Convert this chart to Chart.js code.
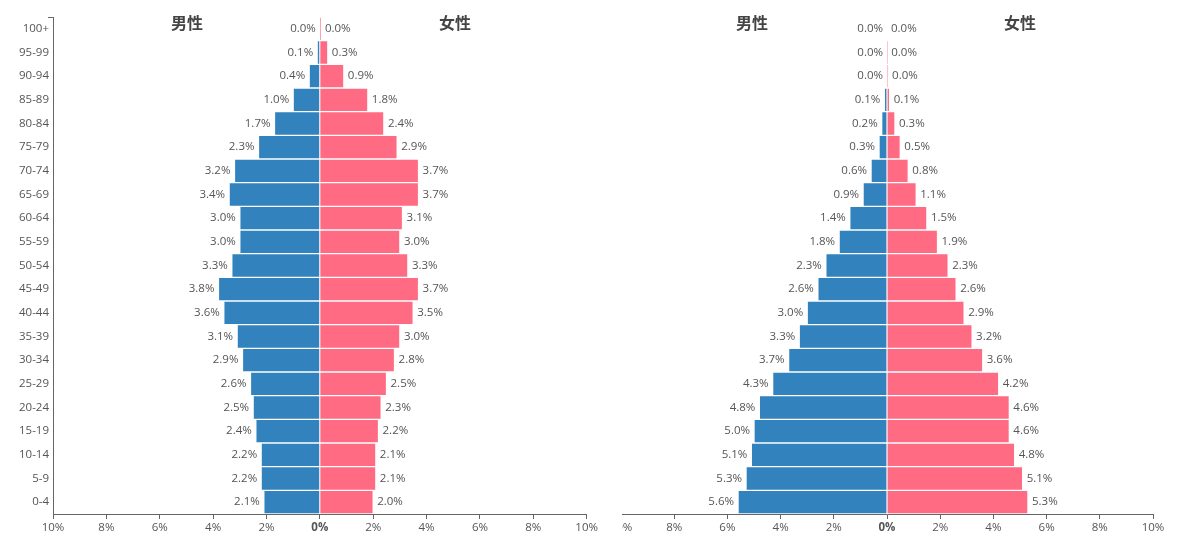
<!DOCTYPE html>
<html><head><meta charset="utf-8">
<script src="https://cdn.jsdelivr.net/npm/chart.js@4"></script>
<style>
html,body{margin:0;padding:0;background:#fff;width:1200px;height:549px;overflow:hidden;}
.wrap{position:absolute;top:0;height:549px;}
#leftWrap{left:0;width:600px;}
#rightClip{left:622px;width:578px;overflow:hidden;}
#rightInner{position:absolute;left:-54px;top:0;width:632px;height:549px;}
.ttl{position:absolute;top:12px;font-family:"Noto Sans CJK SC","Noto Sans",sans-serif;font-size:16px;font-weight:bold;color:#444;transform:translateX(-50%);line-height:20px;white-space:nowrap;}
</style></head>
<body>
<div id="leftWrap" class="wrap"><canvas id="c1" width="600" height="549" style="width:600px;height:549px"></canvas></div>
<div id="rightClip" class="wrap"><div id="rightInner"><canvas id="c2" width="632" height="549" style="width:632px;height:549px"></canvas></div></div>
<div class="ttl" style="left:187px">男性</div>
<div class="ttl" style="left:455px">女性</div>
<div class="ttl" style="left:752px">男性</div>
<div class="ttl" style="left:1020px">女性</div>
<script>
const ageGroups = ['100+','95-99','90-94','85-89','80-84','75-79','70-74','65-69','60-64','55-59','50-54','45-49','40-44','35-39','30-34','25-29','20-24','15-19','10-14','5-9','0-4'];
const maleA   = [0.0, 0.1, 0.4, 1.0, 1.7, 2.3, 3.2, 3.4, 3.0, 3.0, 3.3, 3.8, 3.6, 3.1, 2.9, 2.6, 2.5, 2.4, 2.2, 2.2, 2.1];
const femaleA = [0.04, 0.3, 0.9, 1.8, 2.4, 2.9, 3.7, 3.7, 3.1, 3.0, 3.3, 3.7, 3.5, 3.0, 2.8, 2.5, 2.3, 2.2, 2.1, 2.1, 2.0];
const maleB   = [0.0, 0.0, 0.0, 0.1, 0.2, 0.3, 0.6, 0.9, 1.4, 1.8, 2.3, 2.6, 3.0, 3.3, 3.7, 4.3, 4.8, 5.0, 5.1, 5.3, 5.6];
const femaleB = [0.0, 0.01, 0.04, 0.1, 0.3, 0.5, 0.8, 1.1, 1.5, 1.9, 2.3, 2.6, 2.9, 3.2, 3.6, 4.2, 4.6, 4.6, 4.8, 5.1, 5.3];
const xMin = -10, xMax = 10, xStep = 2;

const FONT = '"Open Sans","Noto Sans",sans-serif';
const FSIZE = 11.5;
const BLUE = '#3182bd';
const PINK = '#ff6b83';

const labelPlugin = {
  id: 'barLabels',
  afterDatasetsDraw(chart) {
    const ctx = chart.ctx;
    ctx.save();
    ctx.font = FSIZE + 'px ' + FONT;
    ctx.fillStyle = '#555';
    ctx.textBaseline = 'middle';
    chart.data.datasets.forEach((ds, i) => {
      const meta = chart.getDatasetMeta(i);
      meta.data.forEach((el, j) => {
        const v = ds.data[j];
        const txt = Math.abs(v).toFixed(1) + '%';
        if (i === 0) { ctx.textAlign = 'right'; ctx.fillText(txt, el.x - 4, el.y); }
        else { ctx.textAlign = 'left'; ctx.fillText(txt, el.x + 4, el.y); }
      });
    });
    ctx.restore();
  }
};

const outerTick = {
  id: 'outerTick',
  afterDraw(chart, args, opts) {
    if (!opts.show) return;
    const ctx = chart.ctx, a = chart.chartArea;
    ctx.save();
    ctx.strokeStyle = '#666';
    ctx.lineWidth = 1;
    ctx.beginPath();
    ctx.moveTo(a.left - 5, a.top + 0.5);
    ctx.lineTo(a.left, a.top + 0.5);
    ctx.stroke();
    ctx.restore();
  }
};

function makeChart(id, male, female, showY, padLeft, padRight) {
  return new Chart(document.getElementById(id), {
    type: 'bar',
    data: {
      labels: ageGroups,
      datasets: [
        { label: '男性', data: male.map(v => -v), backgroundColor: BLUE, borderColor: 'rgba(255,255,255,0.55)', borderWidth: 1, categoryPercentage: 1, barPercentage: 1 },
        { label: '女性', data: female.slice(), backgroundColor: PINK, borderColor: 'rgba(255,255,255,0.55)', borderWidth: 1, categoryPercentage: 1, barPercentage: 1 }
      ]
    },
    options: {
      indexAxis: 'y',
      responsive: false,
      animation: false,
      devicePixelRatio: 1,
      layout: { padding: { top: 17, left: padLeft, right: padRight, bottom: 0 } },
      plugins: { legend: { display: false }, tooltip: { enabled: false }, outerTick: { show: showY } },
      scales: {
        x: {
          type: 'linear', min: xMin, max: xMax, stacked: true,
          ticks: {
            stepSize: xStep, autoSkip: false, maxRotation: 0, padding: 2, color: '#555',
            callback: v => Math.abs(v) + '%',
            font: c => ({ family: FONT, size: FSIZE, weight: (c.tick && c.tick.value === 0) ? 'bold' : 'normal' })
          },
          grid: { drawOnChartArea: false, drawTicks: true, tickLength: 5, color: '#666', tickColor: '#666' },
          border: { display: true, color: '#666', width: 1 },
          afterFit: s => { s.height = 35; }
        },
        y: {
          type: 'category', stacked: true, display: showY,
          ticks: { color: '#555', font: { family: FONT, size: FSIZE }, padding: 4 },
          grid: { drawOnChartArea: false, drawTicks: false },
          border: { display: true, color: '#666', width: 1 },
          afterFit: s => { s.width = 53; }
        }
      }
    },
    plugins: [labelPlugin, outerTick]
  });
}

makeChart('c1', maleA, femaleA, true, 0, 8);
makeChart('c2', maleB, femaleB, false, 0, 47);
</script>
</body></html>
